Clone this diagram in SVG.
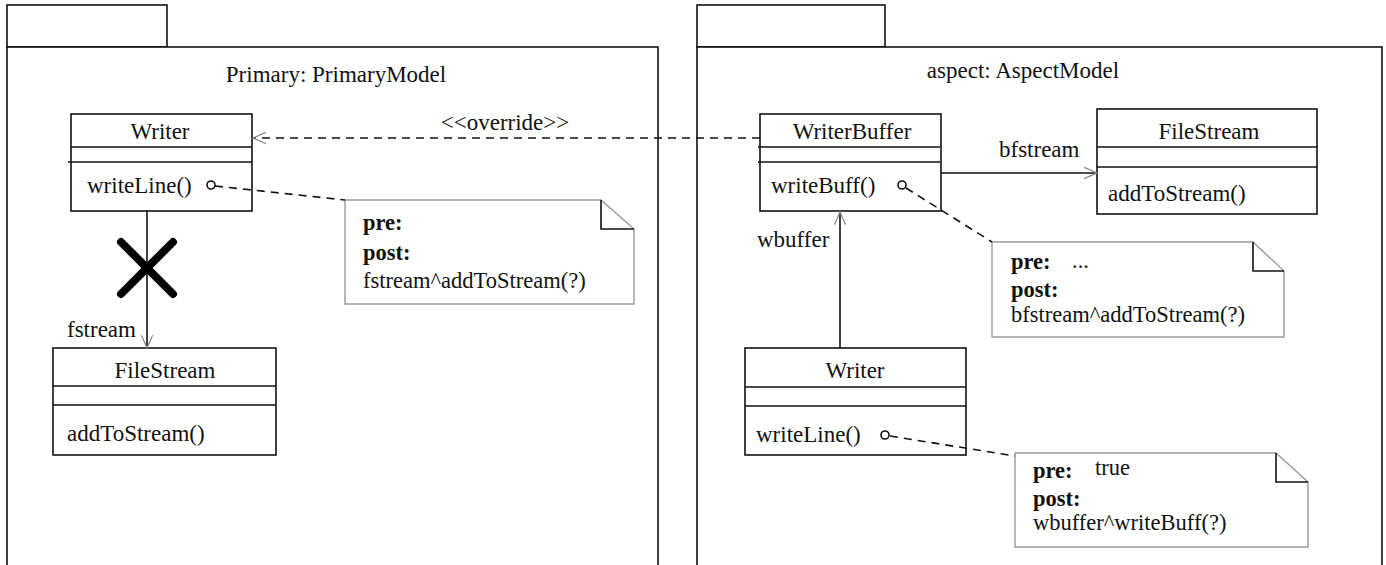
<svg xmlns="http://www.w3.org/2000/svg" width="1386" height="565" viewBox="0 0 1386 565" font-family="'Liberation Serif', 'Times New Roman', 'DejaVu Serif', serif">
<defs>
<style>
text{font-family:'Liberation Serif','Times New Roman','DejaVu Serif',serif;font-size:23px;fill:#111}
.b{font-weight:bold}
.n{font-size:22.5px}
.box{fill:#fff;stroke:#111;stroke-width:1.6}
.ln{stroke:#111;stroke-width:1.6;fill:none}
.note{fill:#fff;stroke:#999;stroke-width:1.4}
.fold{stroke:#111;stroke-width:1.6;fill:none}
.dash{stroke:#111;stroke-width:1.6;fill:none;stroke-dasharray:8,6}
.pin{fill:#fff;stroke:#111;stroke-width:1.6}
</style>
<marker id="open" viewBox="0 0 20 20" refX="18" refY="10" markerWidth="16" markerHeight="16" markerUnits="userSpaceOnUse" orient="auto">
<path d="M2,3 L18,10 L2,17" fill="none" stroke="#888" stroke-width="1.5"/>
</marker>
</defs>
<rect width="1386" height="565" fill="#fff"/>

<g id="pkg-primary">
<rect class="box" x="7" y="5" width="160" height="42"/>
<rect class="box" x="7" y="47" width="651" height="530"/>
<text x="336" y="82" text-anchor="middle">Primary: PrimaryModel</text>
</g>
<g id="pkg-aspect">
<rect class="box" x="697" y="5" width="188" height="42"/>
<rect class="box" x="697" y="47" width="685" height="530"/>
<text x="1023" y="78" text-anchor="middle">aspect: AspectModel</text>
</g>

<g id="writer-primary">
<rect class="box" x="71" y="114" width="181" height="97"/>
<line class="ln" x1="71" y1="147" x2="252" y2="147"/>
<line class="ln" x1="68" y1="162" x2="252" y2="162"/>
<text x="160" y="139" text-anchor="middle">Writer</text>
<text x="87" y="193">writeLine()</text>
</g>

<g id="filestream-primary">
<rect class="box" x="53" y="348" width="223" height="107"/>
<line class="ln" x1="53" y1="386" x2="276" y2="386"/>
<line class="ln" x1="53" y1="405" x2="276" y2="405"/>
<text x="165" y="378" text-anchor="middle">FileStream</text>
<text x="67" y="441">addToStream()</text>
</g>

<g id="note-primary">
<path class="note" d="M345,200 L601,200 L634,229 L634,304 L345,304 Z"/>
<path class="fold" d="M601,200 L601,229 L634,229"/>
<text class="b n" x="363" y="230">pre:</text>
<text class="b n" x="363" y="260">post:</text>
<text class="n" x="363" y="288">fstream^addToStream(?)</text>
</g>

<g id="writerbuffer">
<rect class="box" x="760" y="114" width="181" height="97"/>
<line class="ln" x1="758" y1="147" x2="940" y2="147"/>
<line class="ln" x1="758" y1="162" x2="940" y2="162"/>
<text x="852" y="139" text-anchor="middle">WriterBuffer</text>
<text x="771" y="193">writeBuff()</text>
</g>

<g id="filestream-aspect">
<rect class="box" x="1097" y="109" width="220" height="105"/>
<line class="ln" x1="1097" y1="147" x2="1317" y2="147"/>
<line class="ln" x1="1097" y1="167" x2="1317" y2="167"/>
<text x="1209" y="139" text-anchor="middle">FileStream</text>
<text x="1108" y="201">addToStream()</text>
</g>

<g id="note-writerbuffer">
<path class="note" d="M992,242 L1253,242 L1284,271 L1284,337 L992,337 Z"/>
<path class="fold" d="M1253,242 L1253,271 L1284,271"/>
<text class="b n" x="1011" y="269">pre:</text>
<text class="n" x="1072" y="268">...</text>
<text class="b n" x="1011" y="297">post:</text>
<text class="n" x="1011" y="322">bfstream^addToStream(?)</text>
</g>

<g id="writer-aspect">
<rect class="box" x="745" y="348" width="221" height="107"/>
<line class="ln" x1="745" y1="387" x2="966" y2="387"/>
<line class="ln" x1="745" y1="406" x2="966" y2="406"/>
<text x="855" y="378" text-anchor="middle">Writer</text>
<text x="756" y="442">writeLine()</text>
</g>

<g id="note-writer">
<path class="note" d="M1015,453 L1276,453 L1308,482 L1308,547 L1015,547 Z"/>
<path class="fold" d="M1276,453 L1276,482 L1308,482"/>
<text class="b n" x="1033" y="478">pre:</text>
<text class="n" x="1095" y="475">true</text>
<text class="b n" x="1033" y="506">post:</text>
<text class="n" x="1033" y="530">wbuffer^writeBuff(?)</text>
</g>

<g id="connectors">
<line class="dash" x1="760" y1="138" x2="253" y2="138" marker-end="url(#open)"/>
<text x="505" y="130" text-anchor="middle">&lt;&lt;override&gt;&gt;</text>
<line class="ln" x1="147" y1="211" x2="147" y2="348" marker-end="url(#open)"/>
<path d="M121,242 L173,294 M173,242 L121,294" stroke="#000" stroke-width="8" stroke-linecap="round"/>
<text x="67" y="337">fstream</text>
<line class="dash" x1="215" y1="186" x2="345" y2="200"/>
<circle class="pin" cx="211" cy="185" r="4"/>
<line class="ln" x1="941" y1="173" x2="1097" y2="173" marker-end="url(#open)"/>
<text x="999" y="157">bfstream</text>
<line class="dash" x1="906" y1="188" x2="992" y2="242"/>
<circle class="pin" cx="902" cy="185" r="4"/>
<line class="ln" x1="840" y1="348" x2="840" y2="212" marker-end="url(#open)"/>
<text x="757" y="247">wbuffer</text>
<line class="dash" x1="890" y1="436" x2="1015" y2="456"/>
<circle class="pin" cx="885" cy="435" r="4"/>
</g>
</svg>
